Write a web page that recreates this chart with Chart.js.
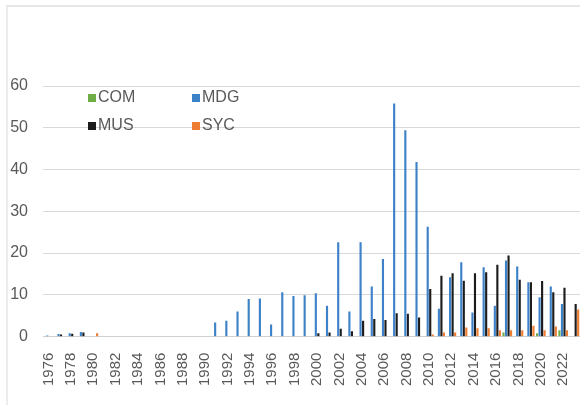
<!DOCTYPE html>
<html>
<head>
<meta charset="utf-8">
<script src="https://cdn.jsdelivr.net/npm/chart.js@4/dist/chart.umd.min.js"></script>
<style>
  html, body { margin: 0; padding: 0; background: #fff; }
  #frame {
    position: absolute; left: 6px; top: 5px; width: 574px; height: 400px;
    border-top: 2px solid #e6e6e6; border-left: 2px solid #ececec;
  }
  #chart { position: absolute; left: 0; top: 0; }
</style>
</head>
<body>
<div id="frame"></div>
<canvas id="chart" width="580" height="405"></canvas>
<script>
// ===============================
// DATA
// ===============================
const years = [];
for (let y = 1976; y <= 2023; y++) years.push(String(y));

//            1976 .......................................................... 1999
const com = [0,0,0,0,0, 0,0,0,0,0, 0,0,0,0,0, 0,0,0,0,0, 0,0,0,0,
//            2000 .......................................................... 2023
             0,0,0,0,0, 0,0,0,0,0, 0,0,0,0,0, 0,0,1.0,0,0, 0.8,0,1.5,0];

const mdg = [0.3,0.6,0.8,1.1,0, 0,0,0,0,0, 0,0,0,0,0, 3.4,3.8,6.0,9.0,9.1, 2.9,10.6,9.7,9.9,
             10.4,7.4,22.6,6.0,22.6, 12.0,18.6,55.8,49.4,41.8, 26.3,6.7,14.2,17.8,5.8,
             16.6,7.4,18.2,16.8,13.0, 9.4,12.0,7.8,0];

const mus = [0,0.5,0.7,1.0,0, 0,0,0,0,0, 0,0,0,0,0, 0,0,0,0,0, 0,0,0,0,
             0.8,1.0,1.9,1.3,3.8, 4.2,4.0,5.6,5.5,4.6, 11.4,14.6,15.2,13.4,15.2,
             15.4,17.2,19.4,13.6,13.0, 13.3,10.6,11.7,7.8];

const syc = [0,0,0,0,0.8, 0,0,0,0,0, 0,0,0,0,0, 0,0,0,0,0, 0,0,0,0,
             0,0,0,0,0, 0,0,0,0,0, 0.5,1.0,1.0,2.2,2.0,
             2.0,1.5,1.5,1.5,2.6, 1.5,2.4,1.5,6.5];

const seriesNames = ["COM", "MDG", "MUS", "SYC"];
const seriesColors = ["#70ad47", "#3d82c8", "#1c1c1c", "#ed7d31"];
const yTicks = [0, 10, 20, 30, 40, 50, 60];

const fontFamily = "'Liberation Sans', Arial, sans-serif";

// ===============================
// LEGEND (2 x 2, inside the plot)
// ===============================
const gridLegend = {
  id: "gridLegend",
  afterDraw(chart, args, opts) {
    const { ctx, chartArea } = chart;
    ctx.save();
    ctx.font = opts.font;
    ctx.textBaseline = "middle";
    chart.data.datasets.forEach((ds, i) => {
      const col = i % 2, row = Math.floor(i / 2);
      const x = chartArea.left + opts.x + col * opts.colGap;
      const y = chartArea.top + opts.y + row * opts.rowGap;
      ctx.fillStyle = ds.backgroundColor;
      ctx.fillRect(x, y - 4, 8, 8);
      ctx.fillStyle = opts.color;
      ctx.fillText(ds.label, x + 10, y);
    });
    ctx.restore();
  }
};

// ===============================
// CHART
// ===============================
new Chart(document.getElementById("chart"), {
  type: "bar",
  data: {
    labels: years,
    datasets: [com, mdg, mus, syc].map((d, i) => ({
      label: seriesNames[i],
      data: d,
      backgroundColor: seriesColors[i],
      categoryPercentage: 0.9,
      barPercentage: 0.85
    }))
  },
  options: {
    responsive: false,
    animation: false,
    devicePixelRatio: 1,
    layout: { padding: { top: 86, right: 0, left: 10, bottom: 11 } },
    plugins: {
      legend: { display: false },
      tooltip: { enabled: false },
      gridLegend: { x: 45, y: 12, colGap: 104, rowGap: 28, color: "#595959",
                    font: "16px " + fontFamily }
    },
    scales: {
      x: {
        grid: { display: false },
        border: { color: "#d0d0d0" },
        afterFit: axis => { axis.paddingLeft = 0; axis.paddingRight = 0; },
        ticks: {
          autoSkip: false,
          minRotation: 90,
          maxRotation: 90,
          padding: 8,
          color: "#595959",
          font: { family: fontFamily, size: 15 },
          callback: (v, i) => (i % 2 === 0 ? years[i] : "")
        }
      },
      y: {
        min: 0,
        max: 60,
        afterBuildTicks: axis => { axis.ticks = yTicks.map(v => ({ value: v })); },
        afterFit: axis => { axis.width = 33; },
        grid: { color: "#d9d9d9", drawTicks: false },
        border: { display: false },
        ticks: {
          padding: 15,
          color: "#595959",
          font: { family: fontFamily, size: 16 }
        }
      }
    }
  },
  plugins: [gridLegend]
});
</script>
</body>
</html>
